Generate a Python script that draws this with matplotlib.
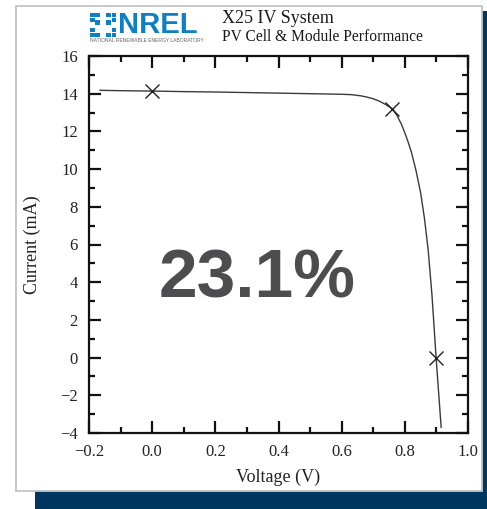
import matplotlib
matplotlib.use("Agg")
import matplotlib.pyplot as plt
from matplotlib.patches import Rectangle
from matplotlib.ticker import MultipleLocator

plt.rcParams['font.family'] = ['Liberation Serif', 'DejaVu Serif']

# I-V curve of the measured cell
voltage = [-0.165, -0.1, 0.0, 0.1, 0.2, 0.3, 0.4, 0.5, 0.6, 0.63, 0.66, 0.68, 0.70,
           0.72, 0.74, 0.76, 0.775, 0.79, 0.805, 0.82, 0.835, 0.85, 0.862, 0.874,
           0.886, 0.899, 0.915]
current = [14.18, 14.16, 14.14, 14.11, 14.09, 14.06, 14.03, 14.0, 13.97, 13.95, 13.89, 13.82,
           13.73, 13.6, 13.42, 13.2, 12.85, 12.35, 11.7, 10.95, 9.95, 8.75, 7.4, 5.7,
           3.3, 0.0, -3.7]

# Isc, Pmax and Voc points
mark_v = [0.0, 0.76, 0.899]
mark_i = [14.14, 13.2, 0.0]

efficiency = "23.1%"
title_lines = ["X25 IV System", "PV Cell & Module Performance"]

W, H = 487, 509
fig = plt.figure(figsize=(W / 100, H / 100), dpi=100)
fig.patch.set_facecolor('white')


def fx(px):
    return px / W


def fy(py):
    return 1 - py / H


# navy backing panel and white card
fig.patches.append(Rectangle((fx(35), fy(509)), fx(487) - fx(35), fy(11) - fy(509),
                             transform=fig.transFigure, facecolor='#003761',
                             edgecolor='none', zorder=0))
fig.patches.append(Rectangle((fx(16), fy(491)), fx(482) - fx(16), fy(6) - fy(491),
                             transform=fig.transFigure, facecolor='white',
                             edgecolor='#c4c4c4', linewidth=1.3, zorder=1))

# NREL mark: ring of small blue squares
blue = '#0f7fc4'
ix0, iy0, cell = 90, 12, 5.4
blocks = [(0, 0), (1, 0), (3, 0), (4, 0),
          (0, 1), (4, 1),
          (1, 1.5), (3, 1.5),
          (0, 2.9), (4, 2.9),
          (0, 3.9), (1, 3.9), (3, 3.9), (4, 3.9)]
for bx, by in blocks:
    fig.patches.append(Rectangle((fx(ix0 + bx * cell), fy(iy0 + (by + 1) * cell * 0.96)),
                                 cell * 0.85 / W, cell * 0.85 / H,
                                 transform=fig.transFigure, facecolor=blue,
                                 edgecolor='none', zorder=2))
fig.text(fx(118), fy(33), "NREL", family=['Liberation Sans', 'DejaVu Sans'],
         fontweight='bold', fontsize=21, color=blue, ha='left', va='baseline', zorder=3)
fig.text(fx(90), fy(42), "NATIONAL RENEWABLE ENERGY LABORATORY",
         family=['Liberation Sans', 'DejaVu Sans'], fontsize=3.6, color='#666666',
         ha='left', va='baseline', zorder=3)
fig.text(fx(222), fy(23), title_lines[0], fontsize=13, color='#1a1a1a',
         ha='left', va='baseline', zorder=3)
fig.text(fx(222), fy(41), title_lines[1], fontsize=11.2, color='#1a1a1a',
         ha='left', va='baseline', zorder=3)

ax = fig.add_axes([fx(89), fy(433), fx(468) - fx(89), fy(56) - fy(433)])
ax.set_zorder(3)
ax.patch.set_alpha(0)

ax.plot(voltage, current, color='#3a3a3a', linewidth=1.0)
ax.plot(mark_v, mark_i, linestyle='none', marker='x', markersize=10,
        markeredgewidth=1.0, color='#222222')

ax.set_xlim(-0.2, 1.0)
ax.set_ylim(-4, 16)
ax.xaxis.set_major_locator(MultipleLocator(0.2))
ax.xaxis.set_minor_locator(MultipleLocator(0.1))
ax.yaxis.set_major_locator(MultipleLocator(2))
ax.yaxis.set_minor_locator(MultipleLocator(1))
ax.xaxis.set_major_formatter(plt.FuncFormatter(lambda v, p: f"{v:.1f}".replace('-', '\u2212')))

for s in ax.spines.values():
    s.set_linewidth(1.6)
    s.set_color('#111111')
ax.tick_params(which='both', direction='in', top=True, right=True,
               width=1.6, color='#111111', labelsize=12, labelcolor='#222222', pad=8)
ax.tick_params(which='major', length=8.5)
ax.tick_params(which='minor', length=4.5)

ax.set_xlabel("Voltage (V)", fontsize=13, color='#222222', labelpad=6)
ax.set_ylabel("Current (mA)", fontsize=13, color='#222222', labelpad=14)

fig.text(fx(257.5), fy(297), efficiency,
         family=['Liberation Sans', 'DejaVu Sans'],
         fontweight='bold', fontsize=50, color='#4d4d4f', ha='center',
         va='baseline', zorder=5)

fig.savefig("out.png", dpi=100)
